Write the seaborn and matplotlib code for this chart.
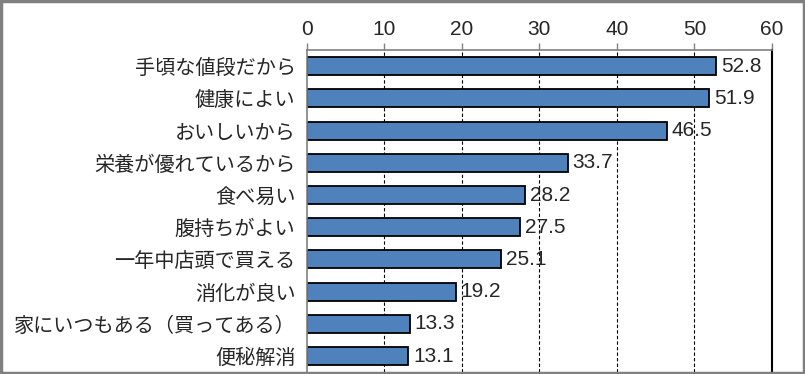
import pandas as pd
import numpy as np
import matplotlib.pyplot as plt
import seaborn as sns
from matplotlib.patches import Rectangle

# data
reasons = ['手頃な値段だから', '健康によい', 'おいしいから', '栄養が優れているから', '食べ易い',
           '腹持ちがよい', '一年中店頭で買える', '消化が良い', '家にいつもある（買ってある）', '便秘解消']
percent = [52.8, 51.9, 46.5, 33.7, 28.2, 27.5, 25.1, 19.2, 13.3, 13.1]
xticks = [0, 10, 20, 30, 40, 50, 60]

df = pd.DataFrame({'reason': reasons, 'percent': percent})

sns.set_style('white')
plt.rcParams['font.family'] = ['Liberation Sans', 'Noto Sans CJK JP', 'DejaVu Sans']

fig = plt.figure(figsize=(8.05, 3.74), dpi=100)
ax = fig.add_axes([0.381, 0.005, 0.578, 0.861])

sns.barplot(data=df, x='percent', y='reason', orient='h', color='#4F81BD',
            edgecolor='black', linewidth=1.3, width=0.56, saturation=1, ax=ax)

ax.set_xlim(0, 60)
ax.set_ylim(len(reasons) - 0.5, -0.5)
ax.set_xlabel('')
ax.set_ylabel('')

# x axis on top
ax.xaxis.tick_top()
ax.set_xticks(xticks)
ax.set_xticklabels([str(t) for t in xticks], fontsize=15)
ax.tick_params(axis='x', direction='out', length=5, width=1, color='#808080', pad=3)

# y ticks at category boundaries
ax.set_yticks(range(len(reasons)))
ax.set_yticklabels(reasons, fontsize=14.5, family=['Noto Sans CJK JP', 'DejaVu Sans'])
ax.tick_params(axis='y', which='major', length=0, pad=8)
ax.set_yticks(np.arange(-0.5, len(reasons), 1), minor=True)
ax.tick_params(axis='y', which='minor', direction='out', length=5, width=1, color='#808080')

# dashed gridlines
for t in xticks[1:-1]:
    ax.axvline(t, color='black', linewidth=0.8, linestyle=(0, (3, 2)), zorder=0)

for s in ['left', 'top']:
    ax.spines[s].set_color('#808080')
    ax.spines[s].set_linewidth(1.2)
ax.spines['right'].set_color('black')
ax.spines['right'].set_linewidth(1.5)
ax.spines['bottom'].set_visible(False)

# value labels
for i, v in enumerate(percent):
    ax.text(v + 0.6, i, f'{v:.1f}', va='center', ha='left', fontsize=15)

# figure border
fig.patches.append(Rectangle((0.0015, 0.003), 0.997, 0.994, transform=fig.transFigure,
                             fill=False, edgecolor='#808080', linewidth=2.5))

fig.savefig('out.png', dpi=100)
